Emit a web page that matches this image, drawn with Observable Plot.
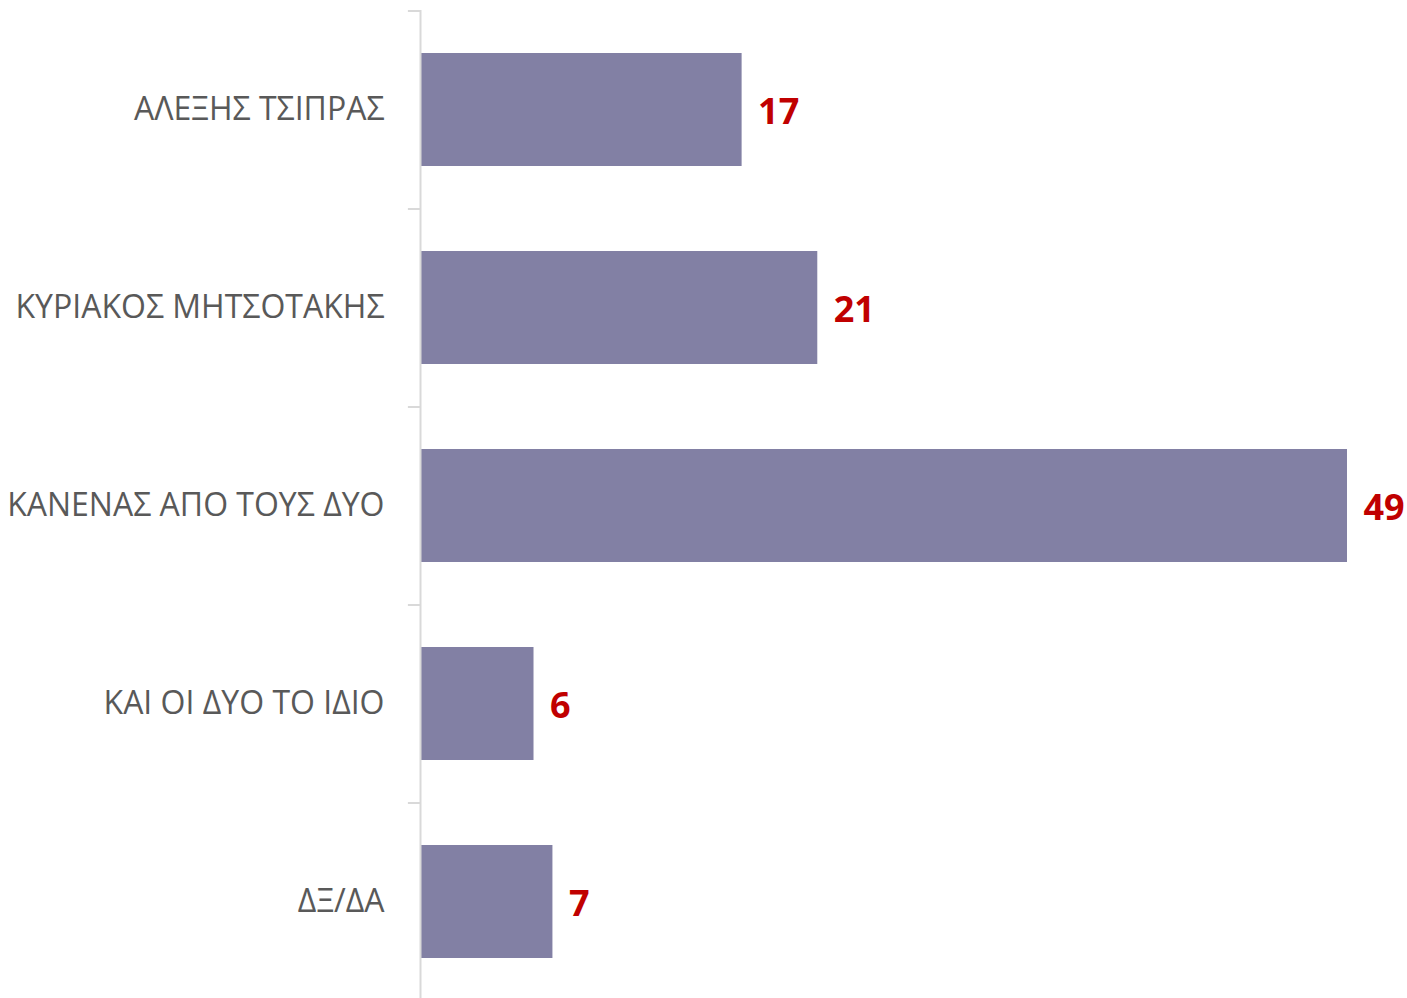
<!DOCTYPE html>
<html>
<head>
<meta charset="utf-8">
<script src="https://cdn.jsdelivr.net/npm/d3@7"></script>
<script src="https://cdn.jsdelivr.net/npm/@observablehq/plot@0.6"></script>
<style>
  html, body { margin: 0; padding: 0; background: #ffffff; }
  #chart { width: 1407px; height: 998px; }
</style>
</head>
<body>
<div id="chart"></div>
<script>
const categories = [
  "ΑΛΕΞΗΣ ΤΣΙΠΡΑΣ",
  "ΚΥΡΙΑΚΟΣ ΜΗΤΣΟΤΑΚΗΣ",
  "ΚΑΝΕΝΑΣ ΑΠΟ ΤΟΥΣ ΔΥΟ",
  "ΚΑΙ ΟΙ ΔΥΟ ΤΟ ΙΔΙΟ",
  "ΔΞ/ΔΑ"
];
const values = [17, 21, 49, 6, 7];

const data = categories.map((c, i) => ({category: c, value: values[i]}));

const W = 1407, H = 998;
const yRange = [10, 1000];
const step = (yRange[1] - yRange[0]) / categories.length;

const chart = Plot.plot({
  width: W,
  height: H,
  marginLeft: 420,
  marginRight: 60,
  marginTop: 10,
  marginBottom: 0,
  style: {fontFamily: "'Open Sans', sans-serif", background: "#ffffff", overflow: "visible"},
  x: {domain: [0, 49], range: [420, 1347], axis: null},
  y: {domain: categories, range: yRange, paddingInner: 0.43, paddingOuter: 0.215, label: null},
  marks: [
    Plot.barX(data, {x: "value", y: "category", fill: "#8280a4"}),
    Plot.ruleX([0], {stroke: "#d9d9d9", strokeWidth: 2}),
    Plot.ruleY(categories, {y: d => d, x1: -0.64, x2: 0, dy: -step / 2, stroke: "#d9d9d9", strokeWidth: 2, clip: false}),
    Plot.axisY({tickSize: 0, tickPadding: 36, fontSize: 32, color: "#595959", label: null}),
    Plot.text(data, {x: "value", y: "category", text: d => String(d.value), textAnchor: "start", dx: 16, dy: 2, fill: "#c00000", fontWeight: "bold", fontSize: 36})
  ]
});
document.getElementById("chart").appendChild(chart);
</script>
</body>
</html>
